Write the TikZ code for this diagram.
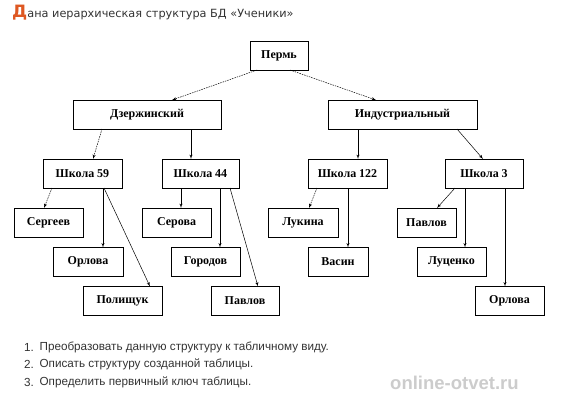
\documentclass[tikz,border=0pt]{standalone}
\usepackage{fontspec}
\setmainfont{Liberation Serif}
\newfontfamily\titlefont{DejaVu Sans}
\newfontfamily\listfont{Liberation Sans}
\usetikzlibrary{arrows,positioning,calc}
\definecolor{capred}{RGB}{222,88,34}
\definecolor{textgray}{RGB}{51,51,51}
\newcommand{\bh}{29}
\newcommand{\mnode}[4]{
  \node[box,minimum width=#2] (#4) at #1 {#3};
}
\newcommand{\medge}[5][]{
  \draw[link,#1] ($#2+#4$) -- ($#3+#5$);
}
\newcommand{\mitem}[3]{
  \node[item] (#3) at #1 {\makebox[15pt][l]{#2}};
}

\begin{document}
\begin{tikzpicture}[x=1pt,y=-1pt,>=latex',
  box/.style={draw,line width=0.7pt,minimum height=\bh pt,inner sep=0pt,
    font=\fontsize{12}{12}\selectfont\bfseries},
  link/.style={->,line width=0.5pt},
  dots/.style={dash pattern=on 1.5pt off 1pt},
  item/.style={anchor=west,inner sep=0pt,text=textgray,
    font=\listfont\fontsize{11.7}{13}\selectfont}]
  \useasboundingbox (0,0) rectangle (578,400);

  % title
  \node[anchor=west,inner sep=0pt,text=textgray,font=\titlefont\fontsize{11.3}{13}\selectfont]
    (title) at (12,13) {{\color{capred}\fontsize{17}{17}\selectfont\bfseries Д}ана иерархическая структура БД «Ученики»};

  % tree
  \mnode{(279,55.5)}{58}{Пермь}{perm}
  \mnode{(147,114.5)}{148}{Дзержинский}{dz}
  \mnode{(402.5,114.5)}{149}{Индустриальный}{ind}
  \mnode{(82.5,173.5)}{79}{Школа 59}{s59}
  \mnode{(200.5,173.5)}{77}{Школа 44}{s44}
  \mnode{(347.5,173.5)}{79}{Школа 122}{s122}
  \mnode{(484,173.5)}{78}{Школа 3}{s3}
  \mnode{(48.5,222.5)}{69}{Сергеев}{serg}
  \mnode{(88,262)}{70}{Орлова}{orla}
  \mnode{(122.5,301)}{79}{Полищук}{pol}
  \mnode{(176.5,222.5)}{69}{Серова}{ser}
  \mnode{(205.5,262)}{69}{Городов}{gor}
  \mnode{(245,301)}{68}{Павлов}{pava}
  \mnode{(303,222.5)}{70}{Лукина}{luk}
  \mnode{(338,262)}{60}{Васин}{vas}
  \mnode{(426.5,222.5)}{59}{Павлов}{pavb}
  \mnode{(451.5,262)}{69}{Луценко}{luc}
  \mnode{(509.5,301)}{69}{Орлова}{orlb}

  \medge[dots]{(perm)}{(dz)}{(-22,14.5)}{(25,-14.5)}
  \medge[dots]{(perm)}{(ind)}{(11,14.5)}{(-26.5,-14.5)}
  \medge[dots]{(dz)}{(s59)}{(-45,14.5)}{(10.5,-14.5)}
  \medge{(dz)}{(s44)}{(44,14.5)}{(-9.5,-14.5)}
  \medge{(ind)}{(s122)}{(-44.5,14.5)}{(10.5,-14.5)}
  \medge{(ind)}{(s3)}{(54.5,14.5)}{(-1,-14.5)}
  \medge[dots]{(s59)}{(serg)}{(-30.5,14.5)}{(-4.5,-14.5)}
  \medge{(s59)}{(orla)}{(20.5,14.5)}{(15,-14.5)}
  \medge{(s59)}{(pol)}{(21.5,14.5)}{(27.5,-14.5)}
  \medge{(s44)}{(ser)}{(-19.5,14.5)}{(4.5,-14.5)}
  \medge{(s44)}{(gor)}{(19.5,14.5)}{(14.5,-14.5)}
  \medge{(s44)}{(pava)}{(29.5,14.5)}{(13,-14.5)}
  \medge[dots]{(s122)}{(luk)}{(-30.5,14.5)}{(6,-14.5)}
  \medge{(s122)}{(vas)}{(0.5,14.5)}{(10,-14.5)}
  \medge{(s3)}{(pavb)}{(-29,14.5)}{(10.5,-14.5)}
  \medge{(s3)}{(luc)}{(-19,14.5)}{(13.5,-14.5)}
  \medge{(s3)}{(orlb)}{(21,14.5)}{(-4.5,-14.5)}

  % tasks
  \mitem{(24,347)}{1.}{ia}
  \node[item,right=0pt of ia] (ta) {Преобразовать данную структуру к табличному виду.};
  \mitem{(24,364.5)}{2.}{ib}
  \node[item,right=0pt of ib] (tb) {Описать структуру созданной таблицы.};
  \mitem{(24,382)}{3.}{ic}
  \node[item,right=0pt of ic] (tc) {Определить первичный ключ таблицы.};

  % watermark
  \node[anchor=west,inner sep=0pt,text=black!20,font=\listfont\fontsize{18.5}{19}\selectfont\bfseries]
    (mark) at (390,383) {online-otvet.ru};
\end{tikzpicture}
\end{document}
